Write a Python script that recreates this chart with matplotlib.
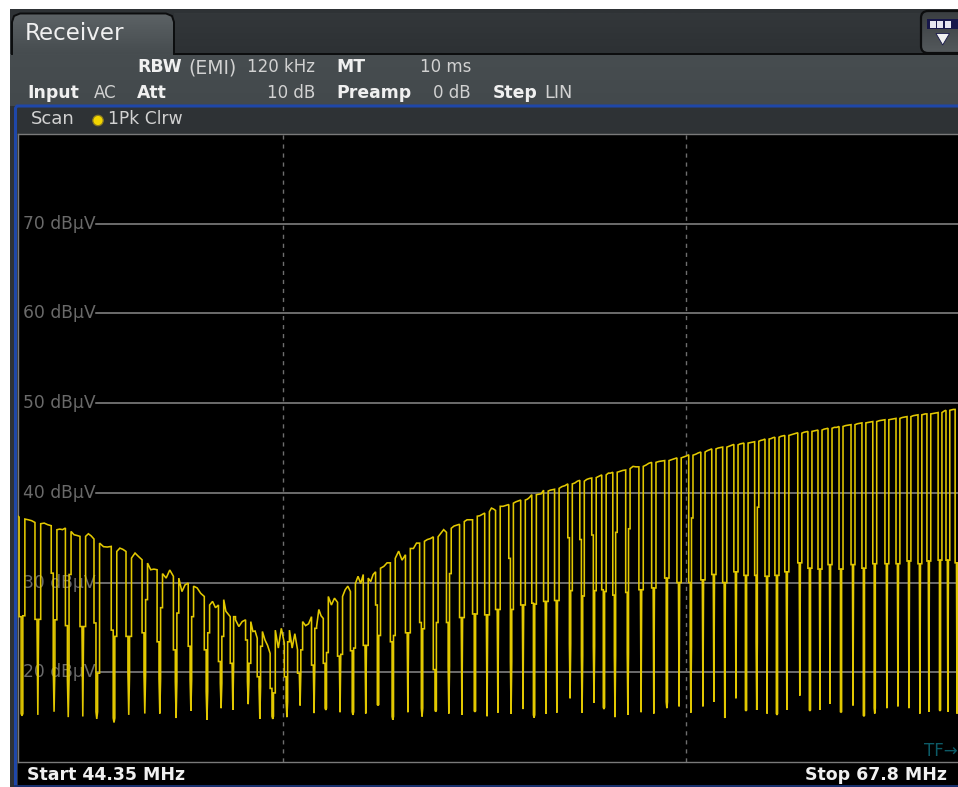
import matplotlib
matplotlib.use("Agg")
import matplotlib.pyplot as plt
from matplotlib.patches import Rectangle, FancyBboxPatch, Circle, Polygon
import numpy as np

plt.rcParams['font.family'] = ['DejaVu Sans']

W, H = 958, 787

# notch centres of the comb in MHz
dip_mhz = [44.43, 44.75, 45.08, 45.37, 45.67, 45.96, 46.32, 46.63, 46.97, 47.29,
           47.64, 47.96, 48.31, 48.62, 48.88, 49.22, 49.48, 49.77, 50.09, 50.39,
           50.71, 50.98, 51.31, 51.61, 51.91, 52.20, 52.55, 52.91, 53.25, 53.58,
           53.90, 54.22, 54.54, 54.84, 55.11, 55.44, 55.74, 56.02, 56.32, 56.60,
           56.94, 57.25, 57.56, 57.82, 58.11, 58.45, 58.80, 59.14, 59.49, 59.82,
           60.14, 60.47, 60.77, 61.07, 61.38, 61.66, 61.96, 62.25, 62.53, 62.81,
           63.18, 63.47, 63.76, 64.05, 64.37, 64.72, 65.04, 65.36, 65.72, 66.05,
           66.38, 66.71, 66.98, 67.32, 67.56, 67.84]

# level just before each notch
top_pre = [37.3, 36.7, 36.34, 36.08, 35.15, 34.85, 34.03, 33.47, 32.54, 31.43,
           30.7, 29.95, 28.45, 27.5, 26.2, 25.85, 23.8, 22.1, 23.25, 22.5,
           26.2, 26.0, 27.8, 29.0, 30.9, 31.2, 32.2, 33.1, 34.4, 35.1,
           35.6, 36.5, 37.0, 37.75, 38.04, 38.7, 39.2, 39.8, 40.3, 40.4,
           41.0, 41.4, 41.65, 42.0, 42.3, 42.55, 42.9, 43.4, 43.6, 43.9,
           44.25, 44.55, 44.9, 45.1, 45.4, 45.55, 45.7, 46.0, 46.2, 46.4,
           46.7, 46.85, 47.0, 47.2, 47.4, 47.6, 47.8, 47.95, 48.15, 48.3,
           48.5, 48.7, 48.8, 48.95, 49.2, 49.3]
# level just after each notch, then two ripple points along the tooth that follows
top_post = [37.08, 36.56, 35.89, 35.7, 35.15, 34.4, 33.47, 32.73, 32.17, 31.0,
            30.5, 29.6, 27.5, 28.1, 25.85, 25.65, 24.55, 24.7, 24.7, 25.65,
            25.1, 28.45, 28.45, 29.9, 30.5, 31.6, 32.7, 33.8, 34.6, 35.1,
            36.05, 36.8, 37.4, 37.9, 38.5, 38.85, 39.2, 39.8, 40.2, 40.5,
            41.0, 41.3, 41.7, 42.0, 42.3, 42.7, 42.95, 43.4, 43.6, 43.9,
            44.2, 44.55, 44.9, 45.1, 45.35, 45.55, 45.75, 46.0, 46.2, 46.4,
            46.65, 46.85, 47.0, 47.2, 47.4, 47.6, 47.8, 47.95, 48.15, 48.3,
            48.5, 48.7, 48.8, 48.95, 49.2, 49.3]
ripple_a = [37.0, 36.63, 35.96, 35.33, 35.44, 34.0, 33.84, 33.29, 31.43, 30.5,
            29.0, 29.4, 27.9, 26.8, 25.1, 24.55, 23.6, 22.7, 22.7, 25.2,
            27.0, 27.5, 29.2, 30.7, 30.1, 31.8, 33.5, 33.8, 34.8, 35.5,
            36.3, 37.0, 37.45, 38.3, 38.5, 39.0, 39.3, 39.85, 40.3, 40.7,
            41.1, 41.5, 41.8, 42.2, 42.4, 42.95, 43.1, 43.5, 43.7, 44.0,
            44.3, 44.7, 45.0, 45.2, 45.45, 45.6, 45.85, 46.05, 46.3, 46.5,
            46.75, 46.9, 47.1, 47.3, 47.5, 47.7, 47.85, 48.05, 48.2, 48.4,
            48.6, 48.75, 48.85, 49.05, 49.25, 49.3]
ripple_b = [36.9, 36.45, 35.9, 35.25, 35.2, 33.96, 33.7, 32.9, 31.5, 31.4,
            29.75, 28.8, 27.2, 26.5, 25.65, 24.6, 23.0, 24.9, 24.3, 25.4,
            26.3, 28.26, 29.6, 29.9, 30.9, 32.2, 32.5, 34.4, 34.9, 35.9,
            36.4, 37.0, 37.6, 38.2, 38.6, 39.1, 39.5, 39.9, 40.35, 40.8,
            41.3, 41.6, 41.9, 42.2, 42.5, 42.9, 43.3, 43.55, 43.8, 44.1,
            44.45, 44.8, 45.05, 45.3, 45.5, 45.65, 45.9, 46.15, 46.35, 46.6,
            46.8, 46.95, 47.15, 47.3, 47.55, 47.75, 47.9, 48.1, 48.25, 48.45,
            48.65, 48.8, 48.9, 49.15, 49.3, 49.3]

# inside of each notch
shoulder_l = [26.2, 25.9, 31.05, 25.2, 25.1, 25.5, 24.7, 24.0, 24.4, 23.4,
              22.5, 22.9, 22.5, 21.2, 21.0, 23.6, 19.5, 18.2, 19.5, 19.9,
              20.8, 21.0, 21.8, 22.4, 23.0, 27.5, 23.4, 24.4, 25.55, 20.3,
              25.55, 26.1, 26.5, 26.4, 27.0, 32.7, 27.5, 27.7, 27.9, 28.0,
              35.0, 34.8, 35.3, 29.2, 28.6, 28.9, 29.2, 29.4, 30.5, 30.0,
              30.0, 30.3, 30.9, 30.0, 31.2, 30.8, 30.8, 30.7, 30.8, 31.2,
              32.2, 31.6, 31.5, 32.0, 31.5, 32.0, 31.6, 32.1, 32.1, 32.1,
              32.4, 32.1, 32.4, 32.5, 32.5, 32.2]
shoulder_r = [26.3, 25.9, 25.85, 30.9, 25.1, 19.9, 24.0, 24.0, 28.1, 27.2,
              26.6, 26.2, 24.4, 24.0, 26.2, 21.0, 22.9, 17.7, 23.4, 22.5,
              24.9, 22.2, 22.0, 22.7, 23.0, 24.1, 24.1, 24.4, 24.85, 25.55,
              31.0, 26.1, 26.5, 26.4, 27.0, 27.0, 27.5, 27.6, 27.9, 28.0,
              29.1, 28.5, 29.1, 29.0, 35.6, 36.0, 29.2, 29.4, 30.5, 30.0,
              37.2, 30.3, 30.9, 30.0, 31.2, 30.8, 38.4, 30.7, 30.8, 31.2,
              32.2, 31.6, 31.5, 32.0, 31.5, 32.0, 31.6, 32.1, 32.1, 32.1,
              32.4, 32.1, 32.4, 32.5, 32.5, 32.2]
waist = [15.4, 25.9, 20.65, 19.2, 25.1, 15.6, 14.9, 19.9, 19.7, 19.3,
         19.0, 19.2, 17.9, 18.8, 21.0, 19.0, 18.4, 15.1, 16.75, 19.9,
         20.8, 16.0, 21.8, 15.6, 23.0, 16.4, 15.07, 24.4, 16.0, 15.8,
         20.7, 26.1, 15.7, 26.4, 27.0, 21.2, 27.5, 15.25, 27.9, 28.0,
         23.2, 21.9, 22.9, 16.1, 21.9, 22.2, 29.2, 29.4, 16.7, 30.0,
         22.9, 30.3, 30.9, 30.0, 31.2, 15.8, 23.4, 30.7, 15.4, 31.2,
         32.2, 15.8, 31.5, 32.0, 15.6, 32.0, 15.2, 16.0, 32.1, 32.1,
         32.4, 32.1, 32.4, 15.8, 32.5, 32.2]
floor_db = [15.15, 15.25, 15.6, 15.0, 15.07, 14.8, 14.4, 15.25, 15.4, 15.4,
            14.9, 15.7, 14.7, 16.0, 15.8, 16.45, 14.8, 14.8, 15.0, 16.3,
            15.45, 15.8, 15.55, 15.25, 15.4, 16.3, 14.7, 15.55, 15.07, 15.6,
            15.4, 15.25, 15.6, 15.1, 15.5, 15.35, 15.9, 14.95, 15.35, 15.5,
            17.1, 15.5, 16.6, 15.9, 15.0, 15.25, 15.55, 15.4, 16.0, 16.2,
            15.5, 16.2, 16.7, 14.9, 17.1, 15.7, 15.8, 15.4, 15.25, 15.8,
            17.4, 15.7, 15.8, 16.5, 15.55, 16.3, 15.1, 15.4, 16.0, 16.2,
            16.0, 15.4, 15.6, 15.7, 15.6, 15.4]

start_level = 37.4
start_mhz = 44.35
end_mhz = 67.87
grid_db = [70, 60, 50, 40, 30, 20]
grid_mhz = [50, 60]

WALL = 0.058  # half width of a notch
NECK = 0.017  # half width of the narrow part

# walk along the comb, each notch adds a few points to the trace
trace_x = [start_mhz]
trace_y = [start_level]
for i, f in enumerate(dip_mhz):
    trace_x += [f - WALL, f - WALL, f - NECK, f - NECK, f, f + NECK, f + NECK, f + WALL, f + WALL]
    trace_y += [top_pre[i], shoulder_l[i], shoulder_l[i], waist[i], floor_db[i],
                waist[i], shoulder_r[i], shoulder_r[i], top_post[i]]
    if i + 1 < len(dip_mhz):
        gap = dip_mhz[i + 1] - WALL - (f + WALL)
        trace_x += [f + WALL + gap / 3, f + WALL + 2 * gap / 3]
        trace_y += [ripple_a[i], ripple_b[i]]

fig = plt.figure(figsize=(W / 100, H / 100), dpi=100, facecolor='white')

# instrument frame, drawn in pixel coordinates
bg = fig.add_axes([0, 0, 1, 1])
bg.set_xlim(0, W)
bg.set_ylim(H, 0)
bg.axis('off')

def gradient(y0, y1, c0, c1, x0, x1, clip=None):
    col = np.linspace(np.array(matplotlib.colors.to_rgb(c0)), np.array(matplotlib.colors.to_rgb(c1)), 32)
    im = bg.imshow(col[:, None, :], extent=(x0, x1, y1, y0), aspect='auto', zorder=2)
    if clip is not None:
        im.set_clip_path(clip)
    return im

bg.add_patch(Rectangle((10, 9), W - 10, H - 9, fc='#2e3235', ec='none', zorder=1))
gradient(13, 53, '#33373a', '#2d3134', 174, 920)
gradient(54, 106, '#474d50', '#43494c', 10, W)
bg.add_patch(Rectangle((174, 52.5), W - 174, 2, fc='#0c0d0e', ec='none', zorder=3))

# the tab runs on into the band below it, only its top and sides have an outline
tab = FancyBboxPatch((13, 14), 160, 60, boxstyle='round,pad=0,rounding_size=8',
                     fc='none', ec='none', zorder=4)
bg.add_patch(tab)
gradient(14, 54, '#5c6265', '#464c4f', 13, 173, clip=tab)
bg.plot([12, 12, 14, 20, 166, 172, 174, 174], [54, 22, 16, 13.5, 13.5, 16, 22, 54], color='#0c0d0e', lw=1.4, zorder=5)

# scan row and blue frame of the active window
bg.add_patch(Rectangle((15, 106), W - 15, 29, fc='#2e3235', ec='none', zorder=3))
bg.plot([W, 17, 15.5, 15.5], [106, 106, 108, 784], color='#1f47a8', lw=2.2, zorder=5)
bg.plot([15.5, W], [785.5, 785.5], color='#14307a', lw=1.2, zorder=5)
bg.add_patch(Rectangle((18, 762), W - 18, 23, fc='black', ec='none', zorder=3))

# softkey button, top right
btn = FancyBboxPatch((921, 11), 45, 42, boxstyle='round,pad=0,rounding_size=7',
                     fc='none', ec='#0c0d0e', lw=1.6, zorder=4)
bg.add_patch(btn)
gradient(11, 53, '#3a3e41', '#54595c', 921, W, clip=btn)
bg.add_patch(Rectangle((927, 19), 31, 10, fc='#17174a', ec='none', zorder=5))
for sx in [930, 937.5, 945]:
    bg.add_patch(Rectangle((sx, 21), 6, 6.5, fc='#e6e6f0', ec='none', zorder=6))
bg.add_patch(Polygon([[936, 33.5], [949.5, 33.5], [942.7, 45]], fc='#f0f0f0', ec='#17174a', lw=0.6, zorder=6))

bold = dict(fontweight='bold', color='#f0f0f0', fontsize=12.4, va='center', zorder=7)
norm = dict(color='#d2d2d2', fontsize=12, va='center', zorder=7)
bg.text(25, 33.5, 'Receiver', color='#f0f0f0', fontsize=16.6, va='center', zorder=7)
bg.text(137, 67.5, 'RBW', **bold)
bg.text(188, 67.5, '(EMI)', color='#d2d2d2', fontsize=13.5, va='center', zorder=7)
bg.text(315, 67.5, '120 kHz', ha='right', **norm)
bg.text(336, 67.5, 'MT', **bold)
bg.text(471, 67.5, '10 ms', ha='right', **norm)
bg.text(27, 93, 'Input', **bold)
bg.text(94, 93, 'AC', **norm)
bg.text(137, 93, 'Att', **bold)
bg.text(315, 93, '10 dB', ha='right', **norm)
bg.text(336, 93, 'Preamp', **bold)
bg.text(471, 93, '0 dB', ha='right', **norm)
bg.text(493, 93, 'Step', **bold)
bg.text(544, 93, 'LIN', color='#d2d2d2', fontsize=12.8, va='center', zorder=7)
bg.text(31, 119.5, 'Scan', color='#d2d2d2', fontsize=13, va='center', zorder=7)
bg.add_patch(Circle((98, 120.5), 5.2, fc='#f2d500', ec='#8a7a20', lw=0.9, zorder=7))
bg.text(108, 119.5, '1Pk Clrw', color='#d2d2d2', fontsize=12.3, va='center', zorder=7)
bg.text(27, 775, 'Start 44.35 MHz', fontweight='bold', color='#f0f0f0', fontsize=12.5, va='center', zorder=7)
bg.text(947, 775, 'Stop 67.8 MHz', fontweight='bold', color='#f0f0f0', fontsize=12.5, va='center', ha='right', zorder=7)

# the trace window
ax = fig.add_axes([18 / W, (H - 762) / H, (W - 18) / W, (762 - 134) / H], facecolor='black')
ax.set_xscale('log')
ax.set_xlim(start_mhz, end_mhz)
ax.set_ylim(10, 80)
ax.set_xticks(grid_mhz)
ax.set_xticks([], minor=True)
ax.set_yticks(grid_db)
ax.tick_params(which='both', length=0, labelbottom=False, labelleft=False)
ax.grid(True, axis='x', color='#6e6e6e', lw=1.0, ls=(0, (3, 3.5)), zorder=1)
for s in ax.spines.values():
    s.set_color('#7a7a7a')
    s.set_linewidth(1.0)
ax.spines['right'].set_visible(False)

for level in grid_db:
    ax.axhline(level, xmin=78 / (W - 18), color='#8a8a8a', lw=1.1, zorder=1.5)
    ax.text(0.0055, level, f'{level} dBµV', transform=ax.get_yaxis_transform(),
            color='#6a6a6a', fontsize=12.3, va='center', zorder=1.6)

ax.plot(trace_x, trace_y, color='#e2c800', lw=1.15, solid_joinstyle='miter', zorder=3)
ax.text(0.9995, 11.25, 'TF→', transform=ax.get_yaxis_transform(), color='#0c5a66',
        fontsize=12, ha='right', va='center', zorder=4)

fig.savefig('out.png', dpi=100, facecolor='white')
